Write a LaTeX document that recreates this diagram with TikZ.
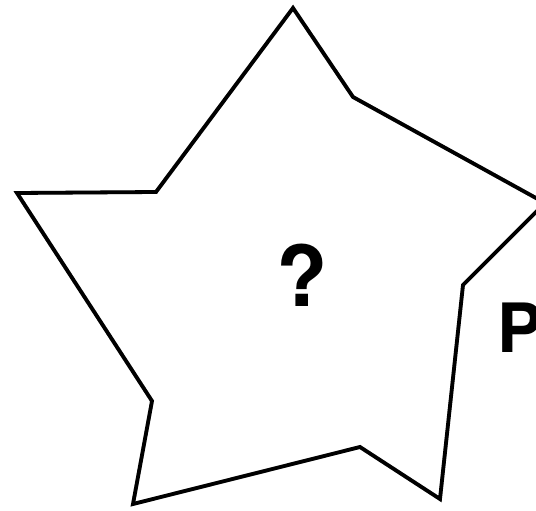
\documentclass[tikz,border=0pt]{standalone}
\usepackage{fontspec}
\setmainfont{TeX Gyre Heros}
\usetikzlibrary{calc}

\begin{document}
\begin{tikzpicture}[x=1pt,y=-1pt,
starline/.style={line width=3.8pt,line join=miter,black},
starshadow/.style={line width=3.8pt,line join=miter,black!25},
every node/.style={inner sep=0pt,font=\bfseries}]
\useasboundingbox (0,0) rectangle (536,511);
\clip (0,0) rectangle (536,511);
\coordinate (T1) at (293,8);
\coordinate (I1) at (353,97);
\coordinate (T2) at (545,203);
\coordinate (I2) at (463,285);
\coordinate (T3) at (440,499);
\coordinate (I3) at (360,447);
\coordinate (T4) at (133,504);
\coordinate (I4) at (152,401);
\coordinate (T5) at (17,193);
\coordinate (I5) at (156,192);
\draw[starshadow,shift={(2,2)}] (T1)--(I1)--(T2)--(I2)--(T3)--(I3)--(T4)--(I4)--(T5)--(I5)--cycle;
\draw[starline] (T1)--(I1)--(T2)--(I2)--(T3)--(I3)--(T4)--(I4)--(T5)--(I5)--cycle;
\node (Q) at (302,275) {\fontsize{84}{84}\selectfont ?};
\node[anchor=base west] (P) at (497,352) {\fontsize{68}{68}\selectfont P};
\end{tikzpicture}
\end{document}
